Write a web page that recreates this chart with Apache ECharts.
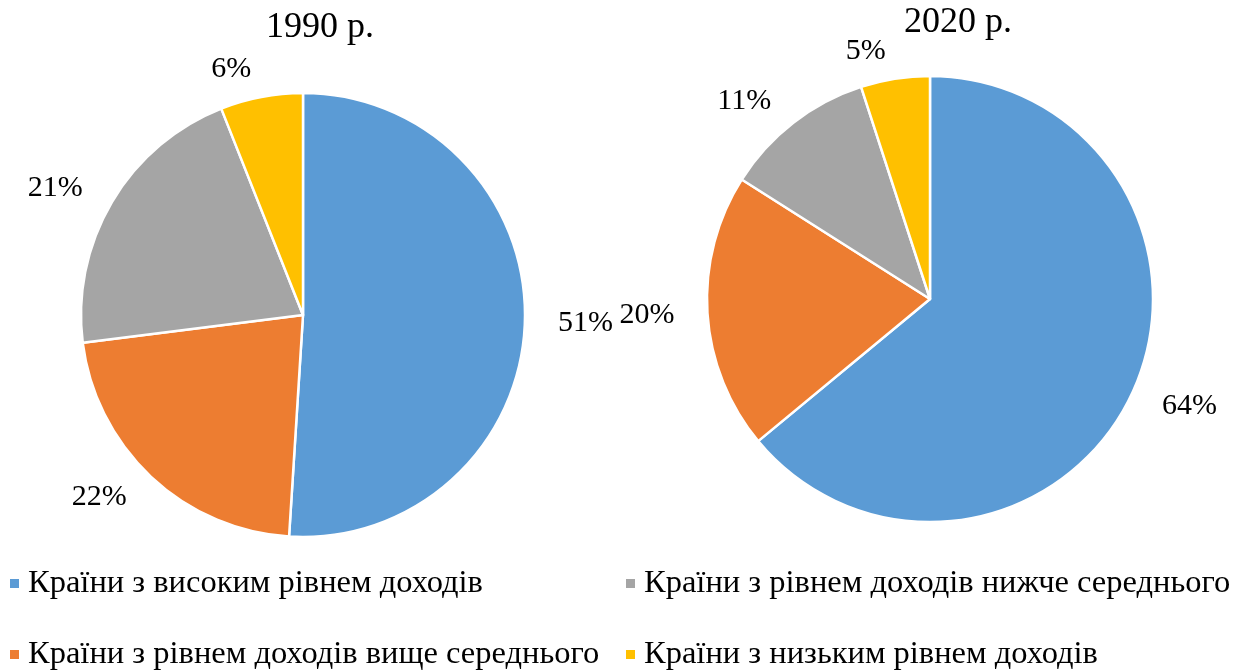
<!DOCTYPE html>
<html><head><meta charset="utf-8">
<script src="https://cdn.jsdelivr.net/npm/echarts@6/dist/echarts.min.js"></script>
<style>html,body{margin:0;padding:0;background:#fff}#c{width:1238px;height:672px}</style>
</head><body><div id="c"></div>
<script>
const categories = ['Країни з високим рівнем доходів','Країни з рівнем доходів вище середнього','Країни з рівнем доходів нижче середнього','Країни з низьким рівнем доходів'];
const values1990 = [51, 22, 21, 6];
const values2020 = [64, 20, 11, 5];
const titles = ['1990 р.', '2020 р.'];
const colors = ['#5B9BD5','#ED7D31','#A5A5A5','#FFC000'];
const FONT = '"Liberation Serif","Times New Roman",serif';

function mk(vals){ return vals.map((v,i)=>({name:categories[i], value:v})); }
function pie(vals, center, r){
  return {
    type:'pie', center:center, radius:r, startAngle:90, clockwise:true,
    avoidLabelOverlap:false, silent:true,
    itemStyle:{borderColor:'#fff', borderWidth:2.5},
    label:{show:true, position:'outside', formatter:'{c}%', color:'#000', fontFamily:FONT, fontSize:30},
    labelLine:{show:false, length:28, length2:0},
    data: mk(vals)
  };
}
const chart = echarts.init(document.getElementById('c'), null, {renderer:'canvas'});
chart.setOption({
  animation:false,
  color: colors,
  title:[
    {text:titles[0], left:320, top:10, textAlign:'center', padding:0, textStyle:{fontFamily:FONT, fontSize:36, fontWeight:'normal', color:'#000'}},
    {text:titles[1], left:958, top:5, textAlign:'center', padding:0, textStyle:{fontFamily:FONT, fontSize:36, fontWeight:'normal', color:'#000'}}
  ],
  legend:[
    {data:[categories[0],categories[1]], orient:'vertical', left:8, top:567, padding:0, itemWidth:11, itemHeight:11, itemGap:38, icon:'rect',
     textStyle:{fontFamily:FONT, fontSize:32.5, color:'#000', padding:[0,0,0,3]}, selectedMode:false},
    {data:[categories[2],categories[3]], orient:'vertical', left:624, top:567, padding:0, itemWidth:11, itemHeight:11, itemGap:38, icon:'rect',
     textStyle:{fontFamily:FONT, fontSize:32.5, color:'#000', padding:[0,0,0,3]}, selectedMode:false}
  ],
  series:[ pie(values1990, [303,315], 222), pie(values2020, [930,299], 223) ]
});
</script></body></html>
